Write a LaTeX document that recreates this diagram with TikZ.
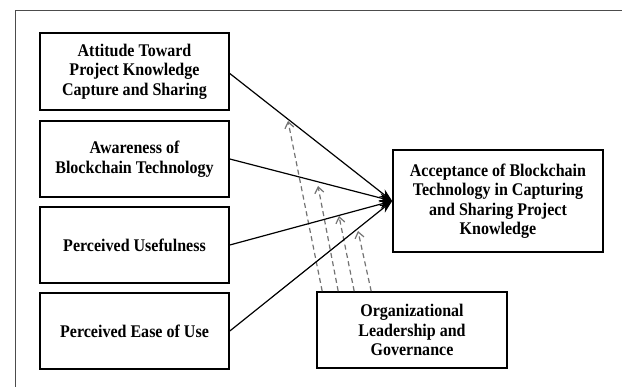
\documentclass[tikz,border=0pt]{standalone}
\usepackage{fontspec}
\setmainfont[FakeStretch=0.9]{Liberation Serif}
\usetikzlibrary{arrows.meta}
\begin{document}
\begin{tikzpicture}[x=1pt,y=-1pt,
  box/.style={draw=black, line width=1.6pt, rectangle, align=center, inner sep=2pt,
    font=\fontsize{17.8}{19.5}\selectfont\bfseries},
  solidarrow/.style={draw=black, line width=1.2pt, -{Stealth[length=13pt,width=9pt]}},
  dasharrow/.style={draw=black!55, line width=1.2pt, dash pattern=on 5pt off 3.5pt,
    -{Straight Barb[length=6pt,width=9pt,line width=1.2pt]}},
  frameline/.style={draw=black!70, line width=0.9pt}]
\useasboundingbox (0,0) rectangle (622,387);
\fill[white] (0,0) rectangle (622,387);
\draw[frameline] (15,387) -- (15,10) -- (622,10);

\node[box, minimum width=189pt, minimum height=77pt] (b1) at (134.5,71.5)
  {Attitude Toward\\Project Knowledge\\Capture and Sharing};
\node[box, minimum width=189pt, minimum height=76pt] (b2) at (134.5,159)
  {Awareness of\\Blockchain Technology};
\node[box, minimum width=189pt, minimum height=76pt] (b3) at (134.5,245)
  {Perceived Usefulness};
\node[box, minimum width=189pt, minimum height=76pt] (b4) at (134.5,331)
  {Perceived Ease of Use};
\node[box, minimum width=210pt, minimum height=102pt] (acc) at (498,201)
  {Acceptance of Blockchain\\Technology in Capturing\\and Sharing Project\\Knowledge};
\node[box, minimum width=190pt, minimum height=76pt] (org) at (412,330)
  {Organizational\\Leadership and\\Governance};

\coordinate (d1) at (288,121);
\coordinate (d2) at (318,186);
\coordinate (d3) at (339,216);
\coordinate (d4) at (358,231);

\draw[dasharrow] ([xshift=6pt]org.north west) -- (d1);
\draw[dasharrow] ([xshift=22pt]org.north west) -- (d2);
\draw[dasharrow] ([xshift=38pt]org.north west) -- (d3);
\draw[dasharrow] ([xshift=55pt]org.north west) -- (d4);

\draw[solidarrow] ([yshift=-2pt]b1.east) -- (acc.west);
\draw[solidarrow] (b2.east) -- (acc.west);
\draw[solidarrow] (b3.east) -- (acc.west);
\draw[solidarrow] (b4.east) -- (acc.west);
\end{tikzpicture}
\end{document}
